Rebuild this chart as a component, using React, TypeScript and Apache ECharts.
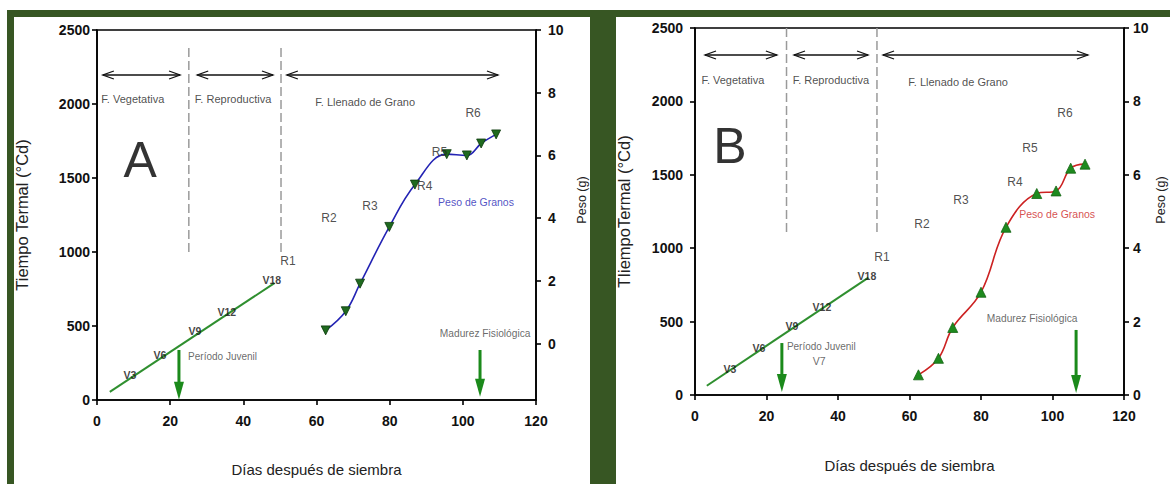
import React, { useEffect, useRef } from "react";
import * as echarts from "echarts";

const FONT = '"Liberation Sans", Arial, Helvetica, sans-serif';
const GREEN_BG = "#375623";

// ---------- Panel A data ----------
const vegLineA = [[3.5, 55], [48.5, 790]];
const weightA = [[62.5, 0.42], [68, 1.03], [71.9, 1.91], [79.9, 3.72], [86.9, 5.07], [95.6, 6.04], [101.1, 6.0], [105, 6.38], [109.1, 6.67]];
const vLabelsA = [["V3", 9.0, 169], ["V6", 17.2, 304], ["V9", 26.8, 466], ["V12", 35.5, 595], ["V18", 47.8, 811]];
const rLabelsA = [["R1", 52.2, 939], ["R2", 63.4, 1230], ["R3", 74.6, 1311], ["R4", 89.6, 1446], ["R5", 93.6, 1676], ["R6", 102.8, 1939]];
const phaseLabelsA = [["F. Vegetativa", 9.8, 2034], ["F. Reproductiva", 37.2, 2034], ["F. Llenado de Grano", 73.3, 2014]];
const phaseArrowsA = [[1.6, 22.7, 2196], [27.4, 48.1, 2196], [51.9, 109.6, 2196]];
const dashesA = [[25.1, 1000, 2380], [50.3, 1000, 2380]];
const greenArrowsA = [[22.4, 338, 2], [104.7, 338, 22]];
const noteLabelsA = [["Período Juvenil", 24.9, 291]];
const maturityLabelA = [["Madurez Fisiológica", 106.1, 446]];
const seriesLabelA = [["Peso de Granos", 103.6, 1338]];
const panelLetterA = [["A", 11.8, 1622]];

// ---------- Panel B data ----------
const vegLineB = [[3.3, 63], [48.5, 800]];
const weightB = [[62.5, 0.55], [68.1, 1.0], [72.1, 1.84], [80, 2.8], [87, 4.57], [95.6, 5.49], [101, 5.56], [105.1, 6.18], [109.1, 6.29]];
const vLabelsB = [["V3", 9.8, 177], ["V6", 17.9, 320], ["V9", 27.1, 470], ["V12", 35.5, 599], ["V18", 48.1, 811]];
const rLabelsB = [["R1", 52.3, 940], ["R2", 63.5, 1165], ["R3", 74.4, 1328], ["R4", 89.5, 1451], ["R5", 93.7, 1683], ["R6", 103.5, 1921]];
const phaseLabelsB = [["F. Vegetativa", 10.6, 2146], ["F. Reproductiva", 38.0, 2146], ["F. Llenado de Grano", 73.6, 2132]];
const phaseArrowsB = [[2.8, 22.9, 2316], [27.7, 48.4, 2316], [52.6, 109.9, 2316]];
const dashesB = [[25.6, 1110, 2500], [50.9, 1110, 2500]];
const greenArrowsB = [[24.3, 354, 20], [106.6, 443, 14]];
const noteLabelsB = [["Período Juvenil", 25.7, 327]];
const v7LabelB = [["V7", 34.7, 232]];
const maturityLabelB = [["Madurez Fisiológica", 94.3, 518]];
const seriesLabelB = [["Peso de Granos", 101.3, 1233]];
const panelLetterB = [["B", 9.8, 1696]];

// ---------- Axes ----------
const xTicks = { min: 0, max: 120, interval: 20 };
const tempTicks = { min: 0, max: 2500, interval: 500 };
const weightTicksA = { min: -1.8, max: 10, values: [0, 2, 4, 6, 8, 10] };
const weightTicksB = { min: 0, max: 10, interval: 2 };

const X_NAME = "Días después de siembra";
const Y_NAME_A = "Tiempo Termal (°Cd)";
const Y_NAME_B = "TIiempoTermal (°Cd)";
const Y2_NAME = "Peso (g)";

const plain = (v: number) => String(v);

function doubleArrow(params: any, api: any) {
  const y = api.value(2);
  const a = api.coord([api.value(0), y]);
  const b = api.coord([api.value(1), y]);
  const h = 11;
  const w = 4;
  const st = { stroke: "#111", lineWidth: 1.3, fill: null };
  return {
    type: "group",
    children: [
      { type: "line", shape: { x1: a[0], y1: a[1], x2: b[0], y2: b[1] }, style: st },
      { type: "polyline", shape: { points: [[a[0] + h, a[1] - w], [a[0], a[1]], [a[0] + h, a[1] + w]] }, style: st },
      { type: "polyline", shape: { points: [[b[0] - h, b[1] - w], [b[0], b[1]], [b[0] - h, b[1] + w]] }, style: st },
    ],
  };
}

function greenArrow(params: any, api: any) {
  const x = api.value(0);
  const top = api.coord([x, api.value(1)]);
  const tip = api.coord([x, api.value(2)]);
  const hl = 18;
  const hw = 5;
  return {
    type: "group",
    children: [
      { type: "line", shape: { x1: top[0], y1: top[1], x2: tip[0], y2: tip[1] - hl + 2 }, style: { stroke: "#1b8a1b", lineWidth: 3 } },
      { type: "polygon", shape: { points: [[tip[0] - hw, tip[1] - hl], [tip[0] + hw, tip[1] - hl], [tip[0], tip[1]]] }, style: { fill: "#1b8a1b" } },
    ],
  };
}

function textSeries(list: any[], g: number, style: any, align: string = "center") {
  return {
    type: "scatter",
    xAxisIndex: g,
    yAxisIndex: g * 2,
    symbolSize: 1,
    itemStyle: { color: "rgba(0,0,0,0)" },
    silent: true,
    z: 6,
    label: {
      show: true, position: [0.5, 0.5], align, verticalAlign: "middle", formatter: "{b}", fontFamily: FONT,
      textBorderWidth: 0, ...style,
    },
    data: list.map((d) => ({ name: d[0], value: [d[1], d[2]] })),
  };
}

function panelSeries(g: number, p: any) {
  const s: any[] = [];
  s.push({
    type: "line", xAxisIndex: g, yAxisIndex: g * 2, data: p.veg, symbol: "none",
    lineStyle: { color: "#2f8f2f", width: 2 }, z: 3,
  });
  p.dashes.forEach((d: number[]) => {
    s.push({
      type: "line", xAxisIndex: g, yAxisIndex: g * 2, data: [[d[0], d[1]], [d[0], d[2]]], symbol: "none",
      lineStyle: { color: "#9a9a9a", width: 1.5, type: [9, 4] }, z: 2,
    });
  });
  s.push({
    type: "line", xAxisIndex: g, yAxisIndex: g * 2 + 1, data: p.weight, smooth: 0.4,
    symbol: "triangle", symbolSize: p.markerSize, symbolRotate: p.markerRotate, showAllSymbol: true,
    lineStyle: { color: p.curveColor, width: 1.6 },
    itemStyle: { color: p.markerColor, borderColor: p.markerBorder, borderWidth: 0.8 }, z: 4,
  });
  s.push({
    type: "custom", xAxisIndex: g, yAxisIndex: g * 2, renderItem: doubleArrow, clip: false,
    encode: { x: [0, 1], y: 2 }, data: p.phaseArrows, silent: true, z: 3,
  });
  s.push({
    type: "custom", xAxisIndex: g, yAxisIndex: g * 2, renderItem: greenArrow, clip: false,
    encode: { x: 0, y: [1, 2] }, data: p.greenArrows, silent: true, z: 5,
  });
  s.push(textSeries(p.vLabels, g, { fontSize: 10.5, fontWeight: "bold", color: "#111" }));
  s.push(textSeries(p.rLabels, g, { fontSize: 12, color: "#222" }));
  s.push(textSeries(p.phaseLabels, g, { fontSize: 11, color: "#222" }));
  s.push(textSeries(p.maturity, g, { fontSize: 10.2, color: "#444" }));
  s.push(textSeries(p.seriesLabel, g, { fontSize: 10.5, color: p.curveColor }));
  s.push(textSeries(p.letter, g, { fontSize: 50, color: "#000" }));
  s.push(textSeries(p.notes, g, { fontSize: 10, color: "#444" }, "left"));
  if (p.extra) s.push(textSeries(p.extra, g, { fontSize: 10.5, color: "#444" }));
  return s;
}

const axisLineStyle = { color: "#000", width: 1.6 };
const tickLabel = { color: "#111", fontWeight: "bold", fontSize: 14, fontFamily: FONT, formatter: plain };

function xAxis(g: number, gap: number) {
  return {
    type: "value", gridIndex: g, ...xTicks,
    name: X_NAME, nameLocation: "middle", nameGap: gap,
    nameTextStyle: { fontSize: 15, color: "#222", fontFamily: FONT },
    axisLine: { show: true, onZero: false, lineStyle: axisLineStyle },
    axisTick: { show: true, length: 5, lineStyle: axisLineStyle },
    axisLabel: { ...tickLabel, margin: 14 },
    splitLine: { show: false },
  };
}

export default function App() {
  const ref = useRef<HTMLDivElement>(null);
  useEffect(() => {
    document.body.style.margin = "0";
    if (!ref.current) return;
    const chart = echarts.init(ref.current, undefined, { renderer: "svg" });
    const y2Style = { text: Y2_NAME, fontSize: 12.5, fill: "#222", fontFamily: FONT, textAlign: "center", textVerticalAlign: "middle" };
    const option: any = {
      animation: false,
      backgroundColor: "#fff",
      textStyle: { fontFamily: FONT },
      graphic: [
        { type: "rect", z: -30, shape: { x: 0, y: 0, width: 1170, height: 484 }, style: { fill: "#fff" }, silent: true },
        { type: "rect", z: -20, shape: { x: 7, y: 10, width: 1163, height: 474 }, style: { fill: GREEN_BG }, silent: true },
        { type: "rect", z: -10, shape: { x: 14, y: 17, width: 576, height: 467 }, style: { fill: "#fff" }, silent: true },
        { type: "rect", z: -10, shape: { x: 616, y: 17, width: 554, height: 467 }, style: { fill: "#fff" }, silent: true },
        { type: "text", x: 582, y: 200, rotation: Math.PI / 2, style: y2Style },
        { type: "text", x: 1161, y: 200, rotation: Math.PI / 2, style: y2Style },
      ],
      grid: [
        { left: 97, top: 30, width: 439, height: 370, show: true, borderColor: "#000", borderWidth: 1.6, backgroundColor: "transparent" },
        { left: 695, top: 28, width: 429, height: 367, show: true, borderColor: "#000", borderWidth: 1.6, backgroundColor: "transparent" },
      ],
      xAxis: [xAxis(0, 62), xAxis(1, 63)],
      yAxis: [
        {
          type: "value", gridIndex: 0, position: "left", ...tempTicks,
          name: Y_NAME_A, nameLocation: "middle", nameRotate: 90, nameGap: 67,
          nameTextStyle: { fontSize: 16.5, color: "#222", fontFamily: FONT },
          axisLine: { show: true, lineStyle: axisLineStyle },
          axisTick: { show: true, length: 5, lineStyle: axisLineStyle },
          axisLabel: { ...tickLabel, margin: 7 },
          splitLine: { show: false },
        },
        {
          type: "value", gridIndex: 0, position: "right", min: weightTicksA.min, max: weightTicksA.max,
          axisLine: { show: true, lineStyle: axisLineStyle },
          axisTick: { show: true, length: 5, lineStyle: axisLineStyle, customValues: weightTicksA.values },
          axisLabel: { ...tickLabel, margin: 12, customValues: weightTicksA.values, formatter: (v: number) => (v < 0 ? "" : String(v)) },
          splitLine: { show: false },
        },
        {
          type: "value", gridIndex: 1, position: "left", ...tempTicks,
          name: Y_NAME_B, nameLocation: "middle", nameRotate: 90, nameGap: 63,
          nameTextStyle: { fontSize: 16.5, color: "#222", fontFamily: FONT },
          axisLine: { show: true, lineStyle: axisLineStyle },
          axisTick: { show: true, length: 5, lineStyle: axisLineStyle },
          axisLabel: { ...tickLabel, margin: 12 },
          splitLine: { show: false },
        },
        {
          type: "value", gridIndex: 1, position: "right", ...weightTicksB,
          axisLine: { show: true, lineStyle: axisLineStyle },
          axisTick: { show: true, length: 5, lineStyle: axisLineStyle },
          axisLabel: { ...tickLabel, margin: 9 },
          splitLine: { show: false },
        },
      ],
      series: [
        ...panelSeries(0, {
          veg: vegLineA, weight: weightA, dashes: dashesA, phaseArrows: phaseArrowsA, greenArrows: greenArrowsA,
          vLabels: vLabelsA, rLabels: rLabelsA, phaseLabels: phaseLabelsA, maturity: maturityLabelA,
          seriesLabel: seriesLabelA, letter: panelLetterA, notes: noteLabelsA,
          curveColor: "#2424b4", markerColor: "#1f6a1f", markerBorder: "#0d3a0d", markerSize: 9, markerRotate: 180,
        }),
        ...panelSeries(1, {
          veg: vegLineB, weight: weightB, dashes: dashesB, phaseArrows: phaseArrowsB, greenArrows: greenArrowsB,
          vLabels: vLabelsB, rLabels: rLabelsB, phaseLabels: phaseLabelsB, maturity: maturityLabelB,
          seriesLabel: seriesLabelB, letter: panelLetterB, notes: noteLabelsB, extra: v7LabelB,
          curveColor: "#cc2222", markerColor: "#1e8a1e", markerBorder: "#156615", markerSize: 10, markerRotate: 0,
        }),
      ],
    };
    chart.setOption(option);
    return () => chart.dispose();
  }, []);
  return <div ref={ref} style={{ width: 1170, height: 484 }} />;
}
